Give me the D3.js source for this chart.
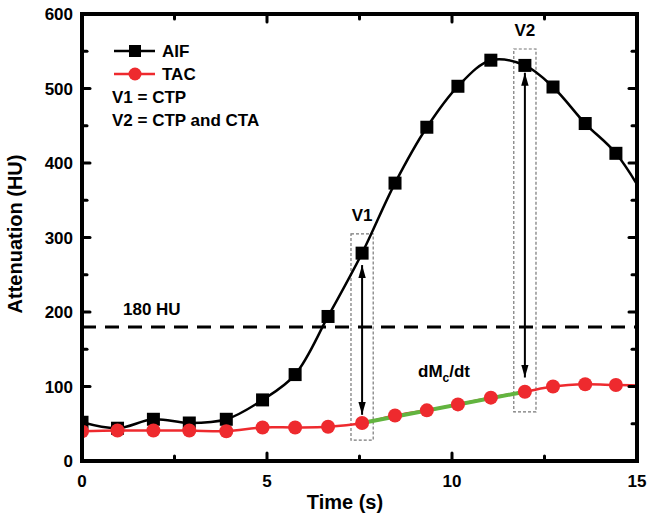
<!DOCTYPE html>
<meta charset="utf-8">
<head>
  <title>AIF and TAC</title>
</head>
<style>
body { margin: 0; background: #fff; }
text { font-family: "Liberation Sans", Arial, sans-serif; font-weight: bold; fill: #000; }
.frame { fill: none; stroke: #000; stroke-width: 4px; }
.tick { stroke: #000; stroke-width: 3px; stroke-linecap: round; }
.aif { fill: none; stroke: #000; stroke-width: 2.5px; }
.tac { fill: none; stroke: #ee2a2e; stroke-width: 2.5px; }
.box { fill: none; stroke: #777; stroke-width: 1.2px; stroke-dasharray: 3,2; }
.arrow { stroke: #000; stroke-width: 2px; }
</style>
<body>
<svg width="652" height="515"></svg>
<script src="https://cdnjs.cloudflare.com/ajax/libs/d3/7.8.5/d3.min.js"></script>
<script>
// sample times (s)
var times = [0, 0.96, 1.93, 2.9, 3.9, 4.88, 5.76, 6.65, 7.57, 8.46, 9.32, 10.16, 11.05, 11.97, 12.73, 13.6, 14.43];
// arterial input function (HU)
var aif = [52, 44, 56, 51, 56, 82, 116, 194, 279, 373, 448, 503, 538, 531, 502, 453, 413];
// tissue attenuation curve (HU)
var tac = [40, 41, 41, 41, 40, 45, 45, 46, 51, 61, 68, 76, 85, 93, 100, 103, 102];
// the curves run on past the right edge
var tailT = 15.4, tailAif = 338, tailTac = 101;

var xTicksMajor = [0, 5, 10, 15];
var xTicksMinor = [2.5, 7.5, 12.5];
var yTicksMajor = [0, 100, 200, 300, 400, 500, 600];
var yTicksMinor = [50, 150, 250, 350, 450, 550];

var threshold = 180;
// views: time, top/bottom of box, arrow ends (HU)
var views = [
  {name: "V1", t: 7.57, idx: 8, boxTop: 305, boxBot: 28, arrTop: 263, arrBot: 62},
  {name: "V2", t: 11.97, idx: 13, boxTop: 553, boxBot: 66, arrTop: 521, arrBot: 112}
];

var margin = {left: 82, top: 14, right: 15, bottom: 54};
var W = 652 - margin.left - margin.right,
    H = 515 - margin.top - margin.bottom;

var x = d3.scaleLinear().domain([0, 15]).range([0, W]);
var y = d3.scaleLinear().domain([0, 600]).range([H, 0]);

var svg = d3.select("svg");
var defs = svg.append("defs");
defs.append("clipPath").attr("id", "clip")
  .append("rect").attr("width", W).attr("height", H);
defs.append("marker").attr("id", "head")
  .attr("viewBox", "0 0 14 8").attr("refX", 14).attr("refY", 4)
  .attr("markerWidth", 6.5).attr("markerHeight", 4)
  .attr("markerUnits", "strokeWidth").attr("orient", "auto-start-reverse")
  .append("path").attr("d", "M0,0L14,4L0,8Z").attr("fill", "#000");

var g = svg.append("g").attr("transform", "translate(" + margin.left + "," + margin.top + ")");
var plot = g.append("g").attr("clip-path", "url(#clip)");

var aifPts = times.map(function(t, i) { return [t, aif[i]]; }).concat([[tailT, tailAif]]);
var tacPts = times.map(function(t, i) { return [t, tac[i]]; }).concat([[tailT, tailTac]]);

var line = d3.line()
  .x(function(d) { return x(d[0]); })
  .y(function(d) { return y(d[1]); })
  .curve(d3.curveCatmullRom.alpha(0.5));

// 180 HU threshold
plot.append("line")
  .attr("x1", 0).attr("x2", W)
  .attr("y1", y(threshold)).attr("y2", y(threshold))
  .attr("stroke", "#000").attr("stroke-width", 3)
  .attr("stroke-dasharray", "14,9");

// view boxes
views.forEach(function(v) {
  plot.append("rect").attr("class", "box")
    .attr("x", x(v.t - 0.3)).attr("width", x(0.6) - x(0))
    .attr("y", y(v.boxTop)).attr("height", y(v.boxBot) - y(v.boxTop));
});

plot.append("path").attr("class", "tac").attr("d", line(tacPts));
plot.append("path").attr("class", "aif").attr("d", line(aifPts));

// dMc/dt segment between the two views
plot.append("line")
  .attr("x1", x(views[0].t)).attr("y1", y(tac[views[0].idx]))
  .attr("x2", x(views[1].t)).attr("y2", y(tac[views[1].idx]))
  .attr("stroke", "#62b43f").attr("stroke-width", 4);

plot.selectAll("rect.sq").data(times).enter().append("rect")
  .attr("class", "sq")
  .attr("x", function(d) { return x(d) - 6.5; })
  .attr("y", function(d, i) { return y(aif[i]) - 6.5; })
  .attr("width", 13).attr("height", 13).attr("fill", "#000");

plot.selectAll("circle.dot").data(times).enter().append("circle")
  .attr("class", "dot")
  .attr("cx", function(d) { return x(d); })
  .attr("cy", function(d, i) { return y(tac[i]); })
  .attr("r", 7).attr("fill", "#ee2a2e");

// arrows
views.forEach(function(v) {
  g.append("line").attr("class", "arrow")
    .attr("x1", x(v.t)).attr("x2", x(v.t))
    .attr("y1", y(v.arrTop)).attr("y2", y(v.arrBot))
    .attr("marker-start", "url(#head)").attr("marker-end", "url(#head)");
  g.append("text").attr("x", x(v.t)).attr("y", y(v.boxTop) - 13)
    .attr("text-anchor", "middle").attr("font-size", 17).text(v.name);
});

// frame
g.append("rect").attr("class", "frame").attr("width", W).attr("height", H);

// ticks, inward, on all four sides
function xt(vals, len) {
  vals.forEach(function(v) {
    g.append("line").attr("class", "tick").attr("x1", x(v)).attr("x2", x(v)).attr("y1", H).attr("y2", H - len);
    g.append("line").attr("class", "tick").attr("x1", x(v)).attr("x2", x(v)).attr("y1", 0).attr("y2", len);
  });
}
function yt(vals, len) {
  vals.forEach(function(v) {
    g.append("line").attr("class", "tick").attr("y1", y(v)).attr("y2", y(v)).attr("x1", 0).attr("x2", len);
    g.append("line").attr("class", "tick").attr("y1", y(v)).attr("y2", y(v)).attr("x1", W).attr("x2", W - len);
  });
}
xt(xTicksMajor, 8); xt(xTicksMinor, 5);
yt(yTicksMajor, 8); yt(yTicksMinor, 5);

g.selectAll("text.xl").data(xTicksMajor).enter().append("text")
  .attr("class", "xl").attr("x", function(d) { return x(d); }).attr("y", H + 26)
  .attr("text-anchor", "middle").attr("font-size", 17).text(function(d) { return d; });
g.selectAll("text.yl").data(yTicksMajor).enter().append("text")
  .attr("class", "yl").attr("x", -9).attr("y", function(d) { return y(d) + 6; })
  .attr("text-anchor", "end").attr("font-size", 17).text(function(d) { return d; });

g.append("text").attr("x", 263).attr("y", H + 48).attr("text-anchor", "middle")
  .attr("font-size", 20).text("Time (s)");
g.append("text").attr("transform", "translate(-60," + (234 - margin.top) + ") rotate(-90)")
  .attr("text-anchor", "middle").attr("font-size", 20).text("Attenuation (HU)");

// annotations
g.append("text").attr("x", 41).attr("y", y(threshold) - 12).attr("font-size", 17).text("180 HU");
var dm = g.append("text").attr("x", 336).attr("y", 377 - margin.top).attr("font-size", 17);
dm.append("tspan").text("dM");
dm.append("tspan").attr("font-size", 12).attr("dy", 5).text("c");
dm.append("tspan").attr("dy", -5).text("/dt");

// legend
var leg = g.append("g").attr("transform", "translate(32,37)");
leg.append("line").attr("x1", 0).attr("x2", 41).attr("y1", 0).attr("y2", 0).attr("stroke", "#000").attr("stroke-width", 2.5);
leg.append("rect").attr("x", 15).attr("y", -6).attr("width", 12).attr("height", 12).attr("fill", "#000");
leg.append("text").attr("x", 48).attr("y", 6).attr("font-size", 17).text("AIF");
leg.append("line").attr("x1", 0).attr("x2", 41).attr("y1", 23).attr("y2", 23).attr("stroke", "#ee2a2e").attr("stroke-width", 2.5);
leg.append("circle").attr("cx", 21).attr("cy", 23).attr("r", 6.5).attr("fill", "#ee2a2e");
leg.append("text").attr("x", 48).attr("y", 29).attr("font-size", 17).text("TAC");
leg.append("text").attr("x", -2).attr("y", 52).attr("font-size", 17).text("V1 = CTP");
leg.append("text").attr("x", -2).attr("y", 75).attr("font-size", 17).text("V2 = CTP and CTA");
</script>
</body>
</html>
